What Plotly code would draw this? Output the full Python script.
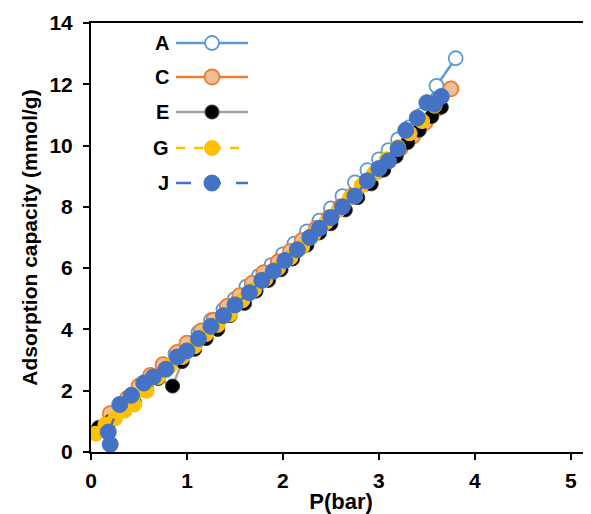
import plotly.graph_objects as go

# ---- data ----
A_x = [0.12, 0.22, 0.35, 0.5, 0.62, 0.75, 0.88, 1.0, 1.12, 1.25, 1.38, 1.5, 1.62, 1.75, 1.88, 2.0,
       2.12, 2.25, 2.38, 2.5, 2.62, 2.75, 2.88, 3.0, 3.1, 3.2, 3.32, 3.45, 3.6, 3.8]
A_y = [0.75, 1.15, 1.6, 2.1, 2.45, 2.85, 3.2, 3.55, 3.9, 4.3, 4.65, 5.0, 5.4, 5.75, 6.1, 6.45,
       6.8, 7.2, 7.55, 7.95, 8.35, 8.8, 9.2, 9.55, 9.85, 10.2, 10.6, 11.0, 11.95, 12.85]

C_x = [0.2, 0.38, 0.5, 0.62, 0.75, 0.9, 1.0, 1.15, 1.28, 1.42, 1.55, 1.68, 1.8, 1.95, 2.08, 2.2,
       2.35, 2.48, 2.6, 2.72, 2.85, 2.98, 3.1, 3.22, 3.35, 3.48, 3.6, 3.75]
C_y = [1.25, 1.75, 2.15, 2.5, 2.85, 3.25, 3.55, 3.95, 4.3, 4.75, 5.1, 5.5, 5.85, 6.2, 6.55, 6.9,
       7.3, 7.65, 8.0, 8.35, 8.75, 9.15, 9.5, 9.9, 10.3, 10.75, 11.2, 11.85]

E_x = [0.08, 0.2, 0.32, 0.45, 0.58, 0.7, 0.85, 0.95, 1.08, 1.2, 1.32, 1.45, 1.6, 1.72, 1.85, 1.98,
       2.1, 2.25, 2.38, 2.5, 2.65, 2.78, 2.92, 3.05, 3.18, 3.3, 3.42, 3.55, 3.65]
E_y = [0.8, 1.0, 1.45, 1.65, 2.05, 2.4, 2.15, 2.95, 3.35, 3.7, 4.0, 4.45, 4.85, 5.25, 5.6, 5.95,
       6.3, 6.75, 7.15, 7.45, 7.9, 8.3, 8.75, 9.2, 9.65, 10.1, 10.5, 10.95, 11.25]

G_x = [0.05, 0.15, 0.25, 0.35, 0.45, 0.58, 0.7, 0.82, 0.95, 1.08, 1.2, 1.32, 1.45, 1.58, 1.7, 1.82,
       1.95, 2.08, 2.2, 2.32, 2.45, 2.58, 2.7, 2.82, 2.95, 3.08, 3.2, 3.32, 3.45, 3.58]
G_y = [0.6, 0.9, 1.1, 1.35, 1.55, 2.0, 2.45, 2.8, 3.1, 3.45, 3.85, 4.15, 4.5, 4.95, 5.3, 5.65,
       6.0, 6.35, 6.7, 7.1, 7.5, 7.9, 8.3, 8.7, 9.1, 9.55, 9.95, 10.4, 10.8, 11.3]

J_x = [0.2, 0.18, 0.3, 0.42, 0.55, 0.65, 0.78, 0.9, 1.0, 1.12, 1.25, 1.38, 1.5, 1.65, 1.78, 1.9,
       2.02, 2.15, 2.28, 2.38, 2.5, 2.62, 2.75, 2.88, 3.0, 3.1, 3.2, 3.28, 3.4, 3.5, 3.58, 3.65]
J_y = [0.25, 0.65, 1.55, 1.85, 2.25, 2.45, 2.7, 3.1, 3.3, 3.7, 4.1, 4.45, 4.8, 5.2, 5.6, 5.9,
       6.25, 6.6, 7.0, 7.3, 7.65, 8.0, 8.35, 8.85, 9.25, 9.5, 9.9, 10.5, 10.9, 11.4, 11.35, 11.6]

series_names = ["A", "C", "E", "G", "J"]
x_ticks = [0, 1, 2, 3, 4, 5]
y_ticks = [0, 2, 4, 6, 8, 10, 12, 14]

styles = {
    "A": dict(line=dict(color="#5B9BD5", width=2.5),
              marker=dict(color="white", size=14, line=dict(color="#5B9BD5", width=1.8))),
    "C": dict(line=dict(color="#ED7D31", width=2.5),
              marker=dict(color="#EDBE95", size=15, line=dict(color="#ED7D31", width=1.8))),
    "E": dict(line=dict(color="#A5A5A5", width=2.5),
              marker=dict(color="black", size=14, line=dict(color="#333333", width=1))),
    "G": dict(line=dict(color="#FFC000", width=2.5, dash="dash"),
              marker=dict(color="#FFC000", size=15, line=dict(color="#FFC000", width=1))),
    "J": dict(line=dict(color="#4472C4", width=2.5, dash="dash"),
              marker=dict(color="#4472C4", size=16, line=dict(color="#4472C4", width=1))),
}
data = {"A": (A_x, A_y), "C": (C_x, C_y), "E": (E_x, E_y), "G": (G_x, G_y), "J": (J_x, J_y)}

fig = go.Figure()
for n in series_names:
    xs, ys = data[n]
    fig.add_trace(go.Scatter(x=xs, y=ys, mode="lines+markers", name=n, showlegend=False, **styles[n]))

# ---- geometry (page body has an 8px margin) ----
OFF = 8
W, H = 591 - OFF, 514 - OFF
L, R, T, B = 91 - OFF, 0, 23 - OFF, 62
pw, ph = W - L - R, H - T - B
def px(xp):  # window pixel -> paper
    return (xp - OFF - L) / pw
def py(yp):
    return (H - B - (yp - OFF)) / ph

FONT = "Liberation Sans, Arial"
leg_y = [43, 77, 112, 148, 183]
shapes = []
annotations = []
for n, yy in zip(series_names, leg_y):
    st = styles[n]
    shapes.append(dict(type="line", xref="paper", yref="paper", x0=px(176), x1=px(248), y0=py(yy), y1=py(yy),
                       line=dict(color=st["line"]["color"], width=2.5,
                                 dash=("dash" if n == "G" else ("longdash" if n == "J" else "solid")))))
    r = st["marker"]["size"] / 2
    shapes.append(dict(type="circle", xref="paper", yref="paper", xsizemode="pixel", ysizemode="pixel",
                       xanchor=px(212), yanchor=py(yy), x0=-r, x1=r, y0=-r, y1=r,
                       fillcolor=st["marker"]["color"],
                       line=dict(color=st["marker"]["line"]["color"], width=st["marker"]["line"]["width"])))
    annotations.append(dict(text="<b>%s</b>" % n, xref="paper", yref="paper", x=px(171), y=py(yy),
                            xanchor="right", yanchor="middle", showarrow=False,
                            font=dict(family=FONT, size=20, color="black")))

fig.update_layout(
    width=W, height=H,
    margin=dict(l=L, r=R, t=T, b=B),
    paper_bgcolor="white", plot_bgcolor="white",
    font=dict(family=FONT, color="black"),
    shapes=shapes, annotations=annotations,
    xaxis=dict(range=[0, 5.21], tickvals=x_ticks, ticktext=["<b>%d</b>" % v for v in x_ticks],
               showgrid=False, zeroline=False, showline=True, linecolor="black", linewidth=2,
               mirror=True, ticks="outside", ticklen=6, tickwidth=1.5, tickcolor="black",
               ticklabelstandoff=3,
               tickfont=dict(size=21, family=FONT),
               title=dict(text="<b>P(bar)</b>", font=dict(size=22), standoff=4)),
    yaxis=dict(range=[0, 14], tickvals=y_ticks, ticktext=["<b>%d</b>" % v for v in y_ticks],
               showgrid=False, zeroline=False, showline=True, linecolor="black", linewidth=2,
               ticks="outside", ticklen=6, tickwidth=1.5, tickcolor="black",
               ticklabelstandoff=6,
               tickfont=dict(size=21, family=FONT),
               title=dict(text="<b>Adsorption capacity (mmol/g)</b>", font=dict(size=21), standoff=6)),
)

fig.write_html("out.html")
